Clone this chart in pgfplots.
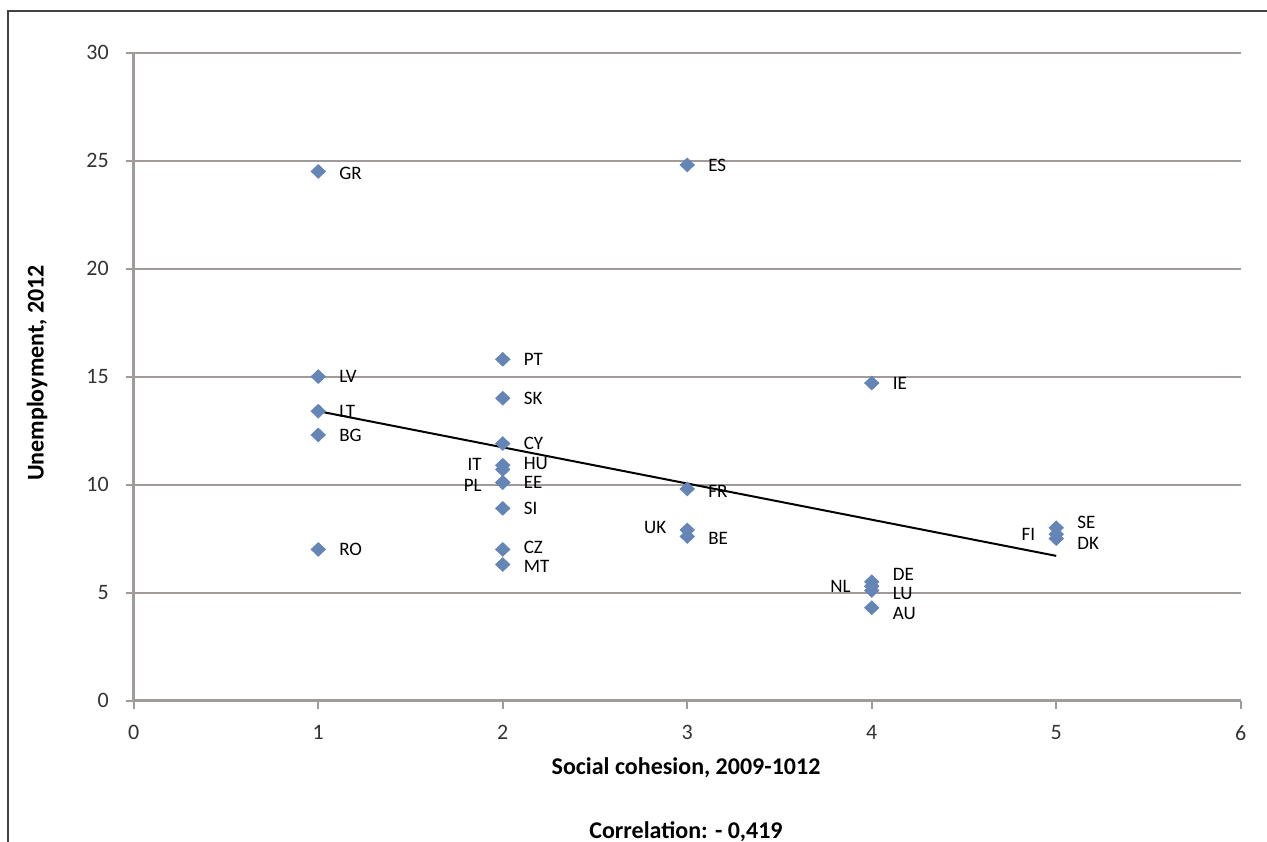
\documentclass[border=0pt]{standalone}
\usepackage{pgfplots}
\pgfplotsset{compat=1.18}
\usepackage{pgfplotstable}
\usepackage{fontspec}
\setmainfont{Carlito}
\definecolor{axgray}{RGB}{160,154,152}
\definecolor{frame}{RGB}{70,66,66}
\definecolor{mk}{RGB}{100,133,182}

\pgfplotstableread{
x y label dy
1 24.5 GR -1
3 24.8 ES 0
1 15.0 LV 0
1 13.4 LT 0
1 12.3 BG 0
1 7.0 RO 0
2 15.8 PT 0
2 14.0 SK 0
2 11.9 CY 0
2 10.9 HU 1
2 10.1 EE 0
2 8.9 SI 0
2 7.0 CZ 1
2 6.3 MT -1
3 9.8 FR -1
3 7.6 BE -1
4 14.7 IE 0
4 5.5 DE 3.5
4 5.1 LU -1.5
4 4.3 AU -3
5 8.0 SE 2.5
5 7.5 DK -2.5
}\rightpts

\pgfplotstableread{
x y label dy
2 10.7 IT 2.5
2 10.1 PL -1.5
3 7.9 UK 1
4 5.3 NL 0
5 7.7 FI 0
}\leftpts

\pgfplotstableread{
x y
1 13.4
5 6.7
}\trend

\begin{document}
\begin{tikzpicture}[x=1pt,y=1pt]
\path[use as bounding box] (0,0) rectangle (633.5,420.5);
\draw[frame, line width=1pt] (4,-5) -- (4,415) -- (640,415);
\begin{axis}[
  at={(72.5,65)}, anchor=south west,
  scale only axis, width=553.5pt, height=324pt,
  xmin=0, xmax=6, ymin=0, ymax=30,
  xtick={0,...,6}, ytick={0,5,...,30},
  axis x line*=bottom, axis y line*=left,
  axis line style={axgray, line width=1.3pt, -},
  ymajorgrids, grid style={axgray, line width=1pt},
  tick style={axgray, line width=1.1pt},
  tick align=outside, major tick length=4pt,
  /pgf/number format/assume math mode=true,
  ticklabel style={font=\fontsize{11}{12}\selectfont, text=black!80},
  yticklabel style={xshift=-5pt},
  xticklabel style={yshift=-5pt},
  clip=false,
  nodes near coords style={font=\fontsize{9.5}{10}\selectfont, text=black},
]
\addplot[black, line width=1pt] table[x=x,y=y] {\trend};
\addplot[only marks, mark=diamond*, mark size=3.4pt, mk, mark options={fill=mk, draw=mk, xscale=1.4},
  visualization depends on={\thisrow{dy}\as\dy},
  point meta=explicit symbolic, nodes near coords,
  nodes near coords align={anchor=west, xshift=7pt, yshift=\dy pt}] table[x=x,y=y,meta=label] {\rightpts};
\addplot[only marks, mark=diamond*, mark size=3.4pt, mk, mark options={fill=mk, draw=mk, xscale=1.4},
  visualization depends on={\thisrow{dy}\as\dy},
  point meta=explicit symbolic, nodes near coords,
  nodes near coords align={anchor=east, xshift=-7pt, yshift=\dy pt}] table[x=x,y=y,meta=label] {\leftpts};
\end{axis}
\node[font=\bfseries\fontsize{12}{14}\selectfont] at (343,36.5) {Social cohesion, 2009-1012};
\node[font=\bfseries\fontsize{12}{14}\selectfont, rotate=90] at (18.5,234) {Unemployment, 2012};
\node[font=\bfseries\fontsize{12}{14}\selectfont, anchor=base] at (343,1.5) {Correlation: - 0,419};
\end{tikzpicture}
\end{document}
